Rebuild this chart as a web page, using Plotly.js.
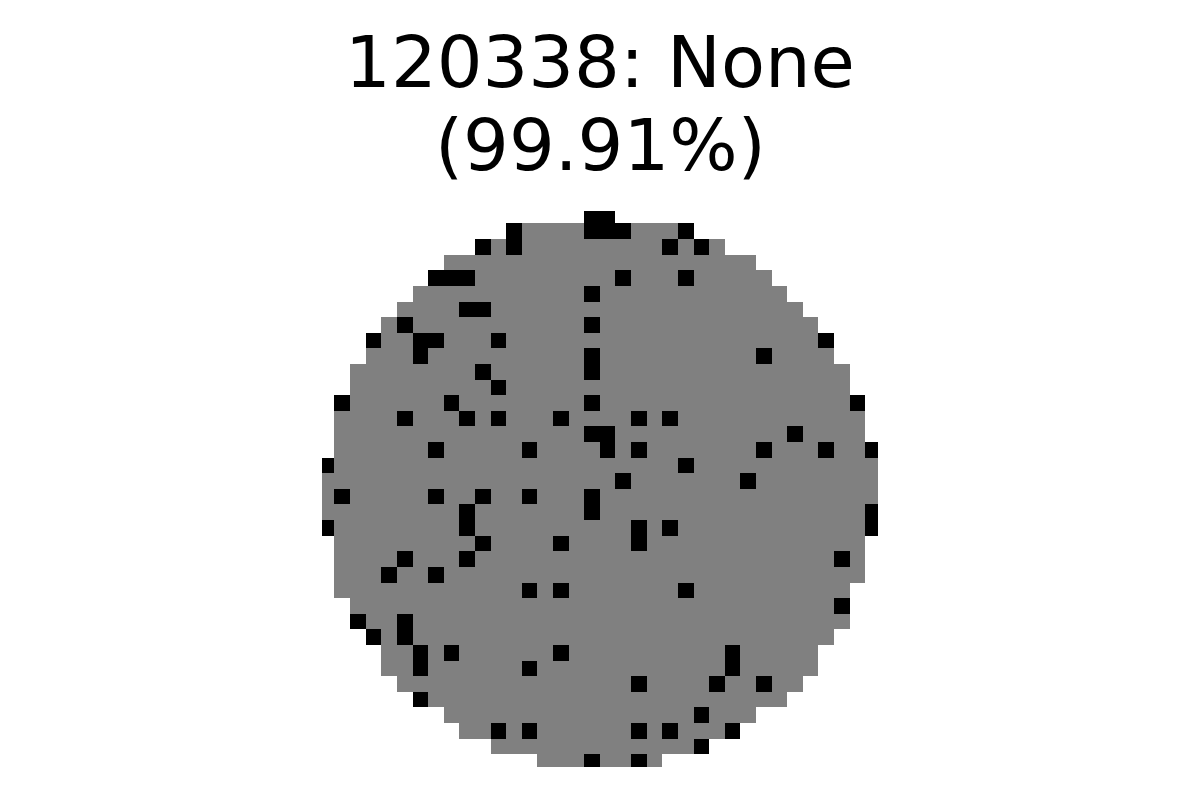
<!DOCTYPE html>
<html>
<head>
<meta charset="utf-8">
<script src="https://cdn.plot.ly/plotly-3.0.1.min.js"></script>
<style>html,body{margin:0;padding:0;background:#fff;}#chart{width:1200px;height:800px;}</style>
</head>
<body>
<div id="chart"></div>
<script>
// Wafer map: per-row die extent (first/last column) and failing die columns
const titleLine1 = "120338: None";
const titleLine2 = "(99.91%)";
const nCols = 36;
const rowStart = [17,12,10,8,7,6,5,4,3,3,2,2,1,1,1,1,0,0,0,0,0,1,1,1,1,2,2,3,4,4,5,6,8,9,11,14];
const rowEnd   = [18,23,25,27,28,29,30,31,32,32,33,33,34,34,34,35,35,35,35,35,35,34,34,34,33,33,33,32,31,31,30,29,27,26,24,21];
const failCols = [
  [17,18],
  [12,17,18,19,23],
  [10,12,22,24],
  [],
  [7,8,9,19,23],
  [17],
  [9,10],
  [5,17],
  [3,6,7,11,32],
  [6,17,28],
  [10,17],
  [11],
  [1,8,17,34],
  [5,9,11,15,20,22],
  [17,18,30],
  [7,13,18,20,28,32,35],
  [0,23],
  [19,27],
  [1,7,10,13,17],
  [9,17,35],
  [0,9,20,22,35],
  [10,15,20],
  [5,9,33],
  [4,7],
  [13,15,23],
  [33],
  [2,5],
  [3,5],
  [6,8,15,26],
  [6,13,26],
  [20,25,28],
  [6],
  [24],
  [11,13,20,22,26],
  [24],
  [17,20]
];
// small red corner markers
const cornerX = [-0.68, 35.64, -0.68, 35.64];
const cornerY = [-0.68, -0.68, 35.64, 35.64];

const z = rowStart.map((s, r) => {
  const row = [];
  for (let c = 0; c < nCols; c++) {
    if (c < s || c > rowEnd[r]) row.push(null);
    else row.push(failCols[r].includes(c) ? 2 : 1);
  }
  return row;
});
const xs = Array.from({length: nCols}, (_, i) => i);
const ys = rowStart.map((_, i) => i);

const data = [
  {
    type: 'heatmap', z: z, x: xs, y: ys,
    zmin: 1, zmax: 2, showscale: false, hoverongaps: false,
    colorscale: [[0,'#808080'],[0.5,'#808080'],[0.5,'#000000'],[1,'#000000']],
    xgap: 0, ygap: 0
  },
  {
    type: 'scatter', mode: 'markers', x: cornerX, y: cornerY,
    marker: {color: '#ff0000', size: 2}, cliponaxis: false, showlegend: false, hoverinfo: 'skip'
  }
];

const layout = {
  width: 1200, height: 800,
  paper_bgcolor: '#ffffff', plot_bgcolor: '#ffffff',
  margin: {l: 322, r: 322, t: 211, b: 33, pad: 0},
  showlegend: false,
  title: {
    text: titleLine1,
    font: {family: 'DejaVu Sans', size: 72, color: '#000000'},
    x: 0.5, xanchor: 'center', xref: 'container',
    y: 1 - 62/800, yanchor: 'middle', yref: 'container'
  },
  xaxis: {range: [-0.3, 35.3], visible: false, showgrid: false, zeroline: false, fixedrange: true},
  yaxis: {range: [35.3, -0.3], visible: false, showgrid: false, zeroline: false, fixedrange: true},
  annotations: [{
    text: titleLine2, xref: 'paper', yref: 'paper', x: 0.5, y: (767 - 145) / 556,
    xanchor: 'center', yanchor: 'middle', showarrow: false,
    font: {family: 'DejaVu Sans', size: 72, color: '#000000'}
  }]
};

Plotly.newPlot('chart', data, layout, {displayModeBar: false, staticPlot: true});
</script>
</body>
</html>
